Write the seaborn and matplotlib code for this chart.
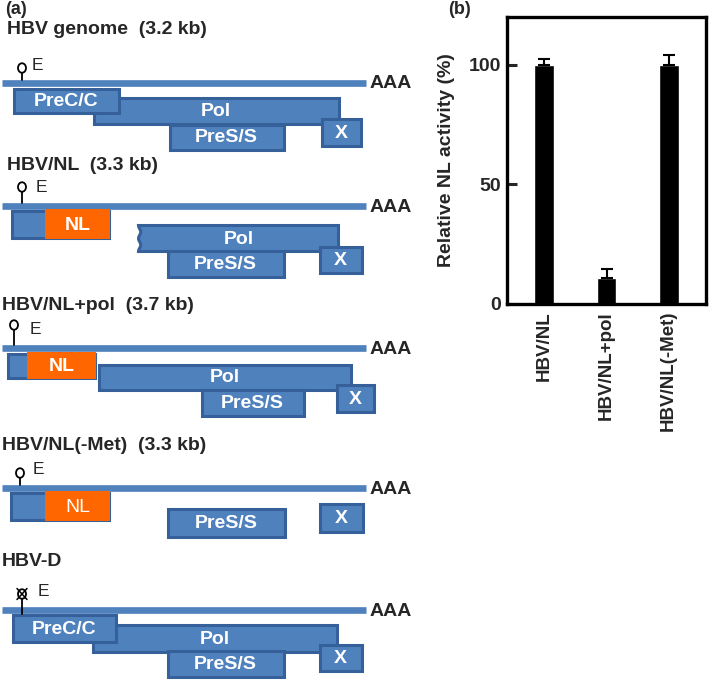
import numpy as np
import pandas as pd
import matplotlib
matplotlib.use('Agg')
import matplotlib.pyplot as plt
from matplotlib.patches import Rectangle, Ellipse, Polygon
import seaborn as sns

# (b) bar chart values
samples = ['HBV/NL', 'HBV/NL+pol', 'HBV/NL(-Met)']
nl_activity = [100, 11, 100]
nl_error = [2.5, 3.7, 4.0]

# (a) construct maps: title, then segments (label, start, end, top, bottom, kind)
titles = ['HBV genome  (3.2 kb)', 'HBV/NL  (3.3 kb)', 'HBV/NL+pol  (3.7 kb)',
          'HBV/NL(-Met)  (3.3 kb)', 'HBV-D']
seg_genome = [('Pol', 92, 340, 96, 125, 'box'), ('PreC/C', 12, 120, 87, 114, 'box'),
              ('PreS/S', 168, 285, 123, 151, 'box'), ('X', 320, 362, 117, 147, 'box')]
seg_nl = [('', 10, 110, 209, 239, 'box'), ('NL', 45, 110, 209, 239, 'nl'),
          ('Pol', 137, 340, 224, 253, 'wavy'), ('PreS/S', 166, 285, 249, 278, 'box'),
          ('X', 318, 363, 245, 274, 'box')]
seg_nl_pol = [('', 6, 96, 352, 379, 'box'), ('NL', 27, 96, 352, 379, 'nl'),
              ('Pol', 97, 352, 363, 391, 'box'), ('PreS/S', 200, 305, 388, 417, 'box'),
              ('X', 335, 375, 383, 413, 'box')]
seg_nl_met = [('', 9, 110, 491, 521, 'box'), ('NL', 45, 110, 491, 521, 'nl_thin'),
              ('PreS/S', 166, 286, 507, 538, 'box'), ('X', 318, 364, 502, 533, 'box')]
seg_d = [('Pol', 91, 338, 623, 653, 'box'), ('PreC/C', 11, 117, 613, 643, 'box'),
         ('PreS/S', 166, 285, 649, 678, 'box'), ('X', 318, 363, 643, 672, 'box')]
segments = [seg_genome, seg_nl, seg_nl_pol, seg_nl_met, seg_d]

line_y = [83, 206, 348, 488, 610]
title_x = [7, 7, 2, 2, 2]
title_y = [30, 165, 305, 445, 561]
loop_x = [22, 22, 14, 20, 22]
loop_y = [68, 187, 325, 473, 594]
e_x = [32, 36, 30, 33, 38]
e_y = [66, 187, 330, 470, 591]
loop_crossed = [False, False, False, False, True]

sns.set_style('white')
plt.rcParams['font.family'] = ['Liberation Sans', 'DejaVu Sans']

blue = '#4f81bd'
blue_edge = '#36609a'
orange = '#ff6600'

fig = plt.figure(figsize=(7.09, 6.8), dpi=100)

# ---- panel (a): schematic, drawn in pixel units
ax = fig.add_axes([0, 0, 1, 1])
ax.set_xlim(0, 709)
ax.set_ylim(680, 0)
ax.axis('off')

fig.text(5 / 709, 1 - 9 / 680, '(a)', fontsize=13, fontweight='bold', va='center')
fig.text(448 / 709, 1 - 9 / 680, '(b)', fontsize=13, fontweight='bold', va='center')

inset = 1.5
for i in range(len(titles)):
    ax.text(title_x[i], title_y[i], titles[i], fontsize=14, fontweight='bold', va='center')
    ly = line_y[i]
    ax.plot([2, 366], [ly, ly], color=blue, lw=4.8, solid_capstyle='butt', zorder=1)
    ax.text(370, ly + 1, 'AAA', fontsize=14, fontweight='bold', va='center')

    # stem loop
    ax.plot([loop_x[i], loop_x[i]], [loop_y[i] + 4.5, ly - (-4 if loop_crossed[i] else 3.5)],
            color='black', lw=1.3, zorder=5)
    ax.add_patch(Ellipse((loop_x[i], loop_y[i]), 8, 9.5, facecolor='white',
                         edgecolor='black', lw=1.3, zorder=5))
    if loop_crossed[i]:
        ax.plot([loop_x[i] - 5, loop_x[i] + 5], [loop_y[i] - 5.5, loop_y[i] + 5.5], color='black', lw=1.1, zorder=6)
        ax.plot([loop_x[i] - 5, loop_x[i] + 5], [loop_y[i] + 5.5, loop_y[i] - 5.5], color='black', lw=1.1, zorder=6)
    ax.text(e_x[i], e_y[i], 'E', fontsize=12.5, va='center')

    for z, (label, x0, x1, y0, y1, kind) in enumerate(segments[i]):
        if kind.startswith('nl'):
            ax.add_patch(Rectangle((x0, y0), x1 - x0, y1 - y0, facecolor=orange,
                                   edgecolor='none', zorder=2 + z))
            weight = 'normal' if kind == 'nl_thin' else 'bold'
        elif kind == 'wavy':
            t = np.linspace(0, 1, 40)
            left_y = y1 - inset - t * (y1 - y0 - 2 * inset)
            left_x = x0 + inset + 2.2 * np.sin(np.pi * t * 2) ** 2
            pts = [(x1 - inset, y0 + inset), (x1 - inset, y1 - inset)] + list(zip(left_x, left_y))
            ax.add_patch(Polygon(pts, closed=True, facecolor=blue, edgecolor=blue_edge,
                                 lw=2.2, zorder=2 + z))
            weight = 'bold'
        else:
            ax.add_patch(Rectangle((x0 + inset, y0 + inset), x1 - x0 - 2 * inset, y1 - y0 - 2 * inset,
                                   facecolor=blue, edgecolor=blue_edge, lw=2.2, zorder=2 + z))
            weight = 'bold'
        if label:
            ax.text((x0 + x1) / 2, (y0 + y1) / 2 + 1, label, color='white', fontsize=14,
                    fontweight=weight, ha='center', va='center', zorder=20)

# ---- panel (b): bar chart
ax2 = fig.add_axes([507 / 709, 1 - 304 / 680, 199 / 709, 287 / 680])
df = pd.DataFrame({'sample': samples, 'activity': nl_activity})
sns.barplot(data=df, x='sample', y='activity', color='black', saturation=1,
            width=0.32, errorbar=None, ax=ax2)
ax2.errorbar(range(len(samples)), nl_activity, yerr=[np.zeros(len(samples)), nl_error],
             fmt='none', ecolor='black', elinewidth=1.5, capsize=4, capthick=1.5)
ax2.set_xlim(-0.6, 2.6)
ax2.set_ylim(0, 120)
ax2.set_yticks([0, 50, 100])
ax2.set_xlabel('')
ax2.set_ylabel('Relative NL activity (%)', fontsize=14, fontweight='bold', labelpad=10)
for s in ax2.spines.values():
    s.set_visible(True)
    s.set_linewidth(2.4)
    s.set_color('black')
ax2.tick_params(axis='y', direction='in', length=7, width=2.2, labelsize=14, pad=4, left=True)
ax2.tick_params(axis='x', length=0, labelsize=13.5, pad=5, rotation=90)
for lbl in ax2.get_yticklabels() + ax2.get_xticklabels():
    lbl.set_fontweight('bold')
for lbl in ax2.get_xticklabels():
    lbl.set_va('top')

fig.savefig('out.png', dpi=100)
